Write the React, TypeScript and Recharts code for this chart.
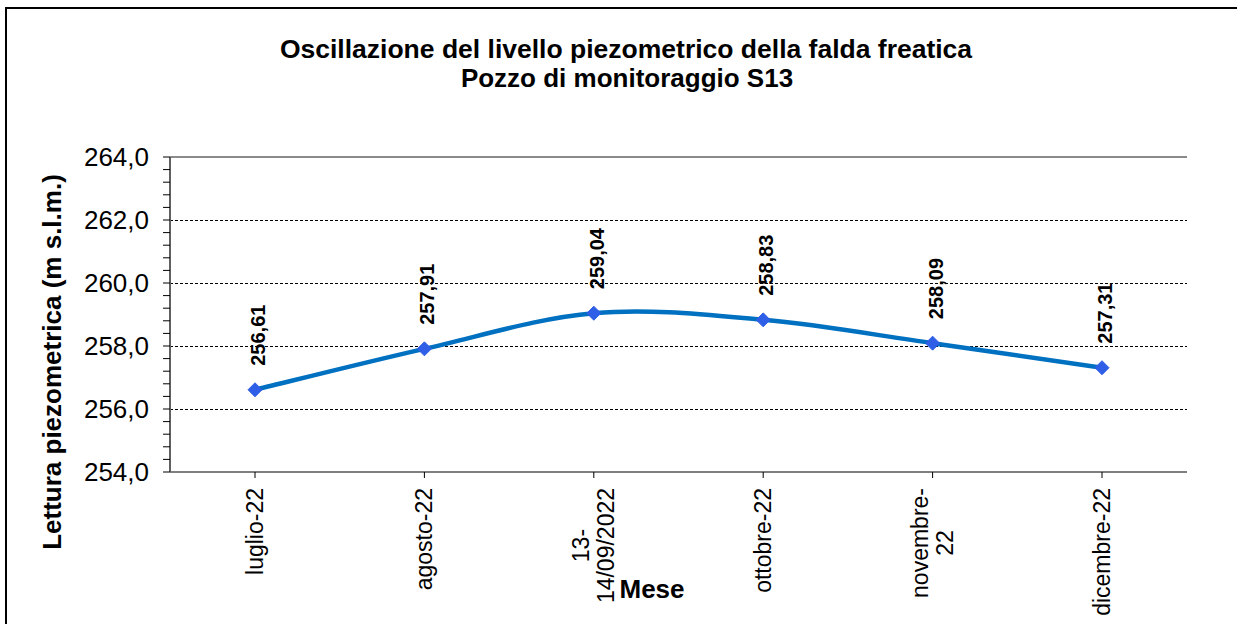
import React from "react";
import { LineChart, Line, XAxis, YAxis, ReferenceLine } from "recharts";

const categories = ["luglio-22", "agosto-22", "13-\n14/09/2022", "ottobre-22", "novembre-\n22", "dicembre-22"];
const levels = [256.61, 257.91, 259.04, 258.83, 258.09, 257.31];
const yTicks = [254, 254.4, 254.8, 255.2, 255.6, 256, 256.4, 256.8, 257.2, 257.6, 258, 258.4, 258.8, 259.2, 259.6, 260, 260.4, 260.8, 261.2, 261.6, 262, 262.4, 262.8, 263.2, 263.6, 264];
const majorTicks = [254, 256, 258, 260, 262, 264];
const gridValues = [256, 258, 260, 262];

const data = categories.map((c, i) => ({ mese: c, livello: levels[i] }));

const FONT = '"Liberation Sans", Arial, sans-serif';

const charW: Record<string, number> = {
  "0": 0.556, "1": 0.556, "2": 0.556, "3": 0.556, "4": 0.556, "5": 0.556, "6": 0.556, "7": 0.556, "8": 0.556, "9": 0.556,
  "/": 0.278, "-": 0.333, a: 0.556, b: 0.556, c: 0.5, d: 0.556, e: 0.556, g: 0.556, i: 0.222, l: 0.222, m: 0.833, n: 0.556,
  o: 0.556, r: 0.333, s: 0.5, t: 0.278, u: 0.556, v: 0.5,
};
const estW = (s: string, fs: number) => s.split("").reduce((a, ch) => a + (charW[ch] ?? 0.556), 0) * fs;

// Excel-like smoothed curve (Catmull-Rom style bezier)
const smoothCurve = (context: any) => {
  let pts: [number, number][] = [];
  return {
    areaStart() {},
    areaEnd() {},
    lineStart() { pts = []; },
    point(x: number, y: number) { pts.push([+x, +y]); },
    lineEnd() {
      if (!pts.length) return;
      context.moveTo(pts[0][0], pts[0][1]);
      for (let i = 0; i < pts.length - 1; i++) {
        const p0 = pts[Math.max(0, i - 1)];
        const p1 = pts[i];
        const p2 = pts[i + 1];
        const p3 = pts[Math.min(pts.length - 1, i + 2)];
        const t = 6;
        context.bezierCurveTo(
          p1[0] + (p2[0] - p0[0]) / t, p1[1] + (p2[1] - p0[1]) / t,
          p2[0] - (p3[0] - p1[0]) / t, p2[1] - (p3[1] - p1[1]) / t,
          p2[0], p2[1]
        );
      }
    },
  };
};

const XTick = (props: any) => {
  const { x, payload } = props;
  const lines = String(payload.value).split("\n");
  const fs = 23;
  const y0 = 488;
  const lh = 25;
  const maxW = Math.max(...lines.map((l) => estW(l, fs)));
  const n = lines.length;
  return (
    <g transform={`rotate(-90, ${x}, ${y0})`}>
      {lines.map((l, i) => {
        const off = (i - (n - 1) / 2) * lh;
        if (n === 1) {
          return (
            <text key={i} x={x} y={y0 + off} textAnchor="end" dominantBaseline="central" fontSize={fs} fontFamily={FONT} fill="#000">
              {l}
            </text>
          );
        }
        return (
          <text key={i} x={x - maxW / 2} y={y0 + off} textAnchor="middle" dominantBaseline="central" fontSize={fs} fontFamily={FONT} fill="#000">
            {l}
          </text>
        );
      })}
    </g>
  );
};

const YTick = (props: any) => {
  const { x, y, payload } = props;
  if (!majorTicks.includes(payload.value)) return null;
  return (
    <text x={x - 12} y={y} textAnchor="end" dominantBaseline="central" fontSize={26} fontFamily={FONT} fill="#000">
      {Number(payload.value).toFixed(1).replace(".", ",")}
    </text>
  );
};

const Diamond = (props: any) => {
  const { cx, cy } = props;
  if (cx == null || cy == null) return null;
  const r = 7;
  return <polygon points={`${cx},${cy - r} ${cx + r},${cy} ${cx},${cy + r} ${cx - r},${cy}`} fill="#2E5FE6" stroke="#2E5FE6" strokeWidth={1} />;
};

const DataLabel = (props: any) => {
  const { x, y, value } = props;
  const lx = x + 3;
  const ly = y - 24;
  return (
    <text transform={`rotate(-90, ${lx}, ${ly})`} x={lx} y={ly} textAnchor="start" dominantBaseline="central" fontSize={20} fontWeight="bold" fontFamily={FONT} fill="#000">
      {Number(value).toFixed(2).replace(".", ",")}
    </text>
  );
};

const GridShape = (p: any) => {
  if (p.x1 == null || p.y1 == null) return null;
  return <line x1={p.x1} y1={Math.round(p.y1) + 0.5} x2={p.x2} y2={Math.round(p.y2) + 0.5} stroke="#000" strokeWidth={1} strokeDasharray="3 2" />;
};

export default function App() {
  return (
    <div style={{ position: "absolute", left: 0, top: 0, width: 1237, height: 624, overflow: "hidden", background: "#fff" }}>
      <div style={{ position: "absolute", left: 5, top: 7, width: 1400, height: 800, border: "2px solid #000", boxSizing: "border-box" }} />
      <div style={{ position: "absolute", left: 0, top: 0 }}>
        <LineChart width={1237} height={624} data={data} margin={{ top: 157, right: 50, bottom: 12, left: 10 }}>
          <XAxis dataKey="mese" type="category" interval={0} height={140} padding={{ left: 85, right: 85 }} tick={<XTick />} tickLine={{ stroke: "#000" }} tickSize={6} axisLine={{ stroke: "#7f7f7f", strokeWidth: 2 }} />
          <YAxis yAxisId="l" domain={[254, 264]} ticks={yTicks} interval={0} width={160} tick={<YTick />} tickSize={7} tickLine={{ stroke: "#000" }} axisLine={{ stroke: "#606060", strokeWidth: 2 }} allowDataOverflow />
          <YAxis yAxisId="r" orientation="right" domain={[254, 264]} width={0} tick={false} tickLine={false} axisLine={{ stroke: "#8a8a8a", strokeWidth: 3 }} />
          {gridValues.map((v) => (
            <ReferenceLine key={v} yAxisId="l" y={v} stroke="#000" strokeDasharray="3 2" strokeWidth={1} shape={GridShape} />
          ))}
          <ReferenceLine yAxisId="l" y={264} stroke="#8a8a8a" strokeWidth={2} />
          <Line yAxisId="l" dataKey="livello" type={smoothCurve as any} stroke="#0070C0" strokeWidth={4.5} dot={<Diamond />} activeDot={false} label={<DataLabel />} isAnimationActive={false} />
        </LineChart>
      </div>
      <svg width={1237} height={624} style={{ position: "absolute", left: 0, top: 0, pointerEvents: "none" }}>
        <text x={626} y={58} textAnchor="middle" fontSize={26.5} fontWeight="bold" fontFamily={FONT} fill="#000">
          Oscillazione del livello piezometrico della falda freatica
        </text>
        <text x={627} y={87} textAnchor="middle" fontSize={26} fontWeight="bold" fontFamily={FONT} fill="#000">
          Pozzo di monitoraggio S13
        </text>
        <text transform="rotate(-90, 52, 362)" x={52} y={362} textAnchor="middle" dominantBaseline="central" fontSize={26} fontWeight="bold" fontFamily={FONT} fill="#000">
          Lettura piezometrica (m s.l.m.)
        </text>
        <text x={652} y={598} textAnchor="middle" fontSize={26} fontWeight="bold" fontFamily={FONT} fill="#000">
          Mese
        </text>
      </svg>
    </div>
  );
}
